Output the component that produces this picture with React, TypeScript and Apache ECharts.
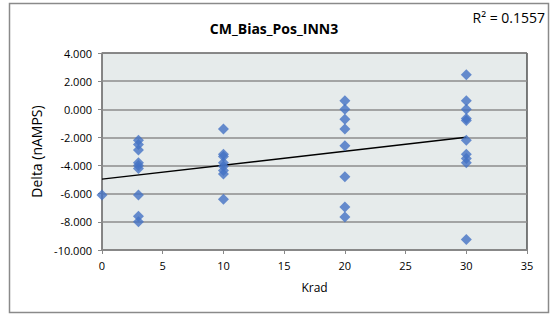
import React, { useEffect, useRef } from "react";
import * as echarts from "echarts";

const xGroups = [0, 3, 10, 20, 30];
const yAt0 = [-6.1];
const yAt3 = [-2.2, -2.5, -2.9, -3.8, -4.0, -4.2, -6.1, -7.6, -8.0];
const yAt10 = [-1.4, -3.2, -3.35, -3.8, -4.05, -4.35, -4.6, -6.4];
const yAt20 = [0.6, 0.0, -0.7, -1.4, -2.6, -4.8, -6.95, -7.65];
const yAt30 = [2.45, 0.6, 0.0, -0.65, -0.8, -2.2, -3.2, -3.5, -3.8, -9.25];
const title = "CM_Bias_Pos_INN3";
const r2Label = "R² = 0.1557";
const xName = "Krad";
const yName = "Delta (nAMPS)";

export default function App() {
  const ref = useRef<HTMLDivElement>(null);
  useEffect(() => {
    if (!ref.current) return;
    const chart = echarts.init(ref.current, null, { renderer: "svg" });
    const groups = [yAt0, yAt3, yAt10, yAt20, yAt30];
    const points: number[][] = [];
    groups.forEach((ys, i) => ys.forEach((y) => points.push([xGroups[i], y])));
    const n = points.length;
    const mx = points.reduce((s, p) => s + p[0], 0) / n;
    const my = points.reduce((s, p) => s + p[1], 0) / n;
    let sxy = 0, sxx = 0;
    points.forEach((p) => { sxy += (p[0] - mx) * (p[1] - my); sxx += (p[0] - mx) ** 2; });
    const slope = sxy / sxx;
    const icpt = my - slope * mx;
    const xMin = Math.min(...xGroups), xMax = Math.max(...xGroups);
    const trend = [[xMin, icpt + slope * xMin], [xMax, icpt + slope * xMax]];
    const font = "Open Sans";
    chart.setOption({
      animation: false,
      backgroundColor: "#fff",
      textStyle: { fontFamily: font },
      title: {
        text: title, left: 269, top: 16, textAlign: "center",
        textStyle: { fontSize: 14, fontWeight: "bold", color: "#000", fontFamily: font },
      },
      grid: { left: 102, top: 53, right: 26, bottom: 66, show: true, backgroundColor: "#E6EBEB", borderColor: "#000", borderWidth: 1 },
      xAxis: {
        type: "value", min: 0, max: 35, interval: 5,
        name: xName, nameLocation: "middle", nameGap: 31,
        nameTextStyle: { fontSize: 12, color: "#000", fontFamily: font },
        axisLine: { show: true, onZero: false, lineStyle: { color: "#888", width: 1.5 } },
        axisTick: { show: true, length: 4, lineStyle: { color: "#888" } },
        axisLabel: { fontSize: 11, color: "#000", margin: 10, fontFamily: font },
        splitLine: { show: false },
      },
      yAxis: {
        type: "value", min: -10, max: 4, interval: 2,
        name: yName, nameLocation: "middle", nameGap: 54, nameRotate: 90,
        nameTextStyle: { fontSize: 14, color: "#000", fontFamily: font },
        axisLine: { show: true, onZero: false, lineStyle: { color: "#888", width: 1.5 } },
        axisTick: { show: true, length: 4, lineStyle: { color: "#888" } },
        axisLabel: { fontSize: 11, color: "#000", margin: 10, fontFamily: font, formatter: (v: number) => v.toFixed(3) },
        splitLine: { show: true, lineStyle: { color: "#8c8c8c", width: 1.5 } },
      },
      graphic: [
        { type: "rect", shape: { x: 9.5, y: 3.5, width: 539, height: 309 }, style: { fill: "none", stroke: "#8a8a8a", lineWidth: 1.5 }, silent: true },
        { type: "text", right: 8, top: 10, style: { text: r2Label, fontSize: 14, fill: "#000", fontFamily: font } },
      ],
      series: [
        {
          type: "scatter", data: points, symbol: "diamond", symbolSize: 11,
          itemStyle: { color: "#4472C4" }, z: 3,
        },
        {
          type: "line", data: trend, symbol: "none", z: 2,
          lineStyle: { color: "#000", width: 1.5 },
        },
      ],
    });
    return () => chart.dispose();
  }, []);
  return <div ref={ref} style={{ position: "fixed", left: 0, top: 0, width: 553, height: 316 }} />;
}
